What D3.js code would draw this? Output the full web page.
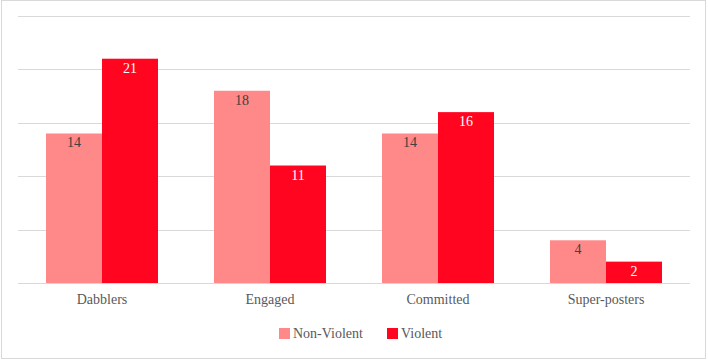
<!DOCTYPE html>
<html>
<head>
<meta charset="utf-8">
<script src="https://cdn.jsdelivr.net/npm/d3@7"></script>
<style>
  body { margin: 0; background: #fff; }
</style>
</head>
<body>
<div class="chart"></div>
<script>
// chart size
const WIDTH = 708;
const HEIGHT = 360;
const FONT = "Liberation Serif";

// data
const categories = ["Dabblers", "Engaged", "Committed", "Super-posters"];
const seriesNames = ["Non-Violent", "Violent"];
const nonViolent = [14, 18, 14, 4];
const violent = [21, 11, 16, 2];
const yTicks = [0, 5, 10, 15, 20, 25];

const COLORS = { "Non-Violent": "#ff8888", "Violent": "#ff0520" };
const LABELCOLORS = { "Non-Violent": "#404040", "Violent": "#ffffff" };

const rows = categories.map((c, i) => ({
  cat: c,
  vals: [
    { key: "Non-Violent", v: nonViolent[i] },
    { key: "Violent", v: violent[i] }
  ]
}));

const svg = d3.select(".chart")
  .append("svg")
  .attr("width", WIDTH)
  .attr("height", HEIGHT);

// outer frame
svg.append("rect")
  .attr("x", 1.5).attr("y", 0.5)
  .attr("width", WIDTH - 4).attr("height", HEIGHT - 2)
  .attr("fill", "#fff")
  .attr("stroke", "#d9d9d9");

const x = d3.scaleBand().domain(categories).range([18, 690]);
const x1 = d3.scaleBand().domain(seriesNames)
  .range([x.bandwidth() / 6, x.bandwidth() * 5 / 6]);
const y = d3.scaleLinear().domain([0, 25]).range([283, 16]);

// gridlines
svg.append("g")
  .selectAll("line")
  .data(yTicks)
  .join("line")
  .attr("x1", 18).attr("x2", 690)
  .attr("y1", d => Math.round(y(d)) + 0.5)
  .attr("y2", d => Math.round(y(d)) + 0.5)
  .attr("stroke", "#d9d9d9")
  .attr("stroke-width", 1.2);

// bars
const groups = svg.append("g")
  .selectAll("g")
  .data(rows)
  .join("g")
  .attr("transform", d => `translate(${x(d.cat)},0)`);

groups.selectAll("rect")
  .data(d => d.vals)
  .join("rect")
  .attr("x", d => x1(d.key))
  .attr("width", x1.bandwidth())
  .attr("y", d => y(d.v))
  .attr("height", d => y(0) - y(d.v))
  .attr("fill", d => COLORS[d.key]);

groups.selectAll("text")
  .data(d => d.vals)
  .join("text")
  .attr("x", d => x1(d.key) + x1.bandwidth() / 2)
  .attr("y", d => y(d.v) + 14)
  .attr("text-anchor", "middle")
  .style("font-family", FONT, "important")
  .attr("font-size", 14)
  .attr("fill", d => LABELCOLORS[d.key])
  .text(d => d.v);

// x axis labels
svg.append("g")
  .selectAll("text")
  .data(categories)
  .join("text")
  .attr("x", d => x(d) + x.bandwidth() / 2)
  .attr("y", 304)
  .attr("text-anchor", "middle")
  .style("font-family", FONT, "important")
  .attr("font-size", 14)
  .attr("fill", "#595959")
  .text(d => d);

// legend
const legend = svg.append("g");
const legX = [279, 387];
seriesNames.forEach((s, i) => {
  legend.append("rect")
    .attr("x", legX[i]).attr("y", 328)
    .attr("width", 11).attr("height", 11)
    .attr("fill", COLORS[s]);
  legend.append("text")
    .attr("x", legX[i] + 14).attr("y", 338)
    .style("font-family", FONT, "important")
    .attr("font-size", 14)
    .attr("fill", "#595959")
    .text(s);
});
</script>
</body>
</html>
